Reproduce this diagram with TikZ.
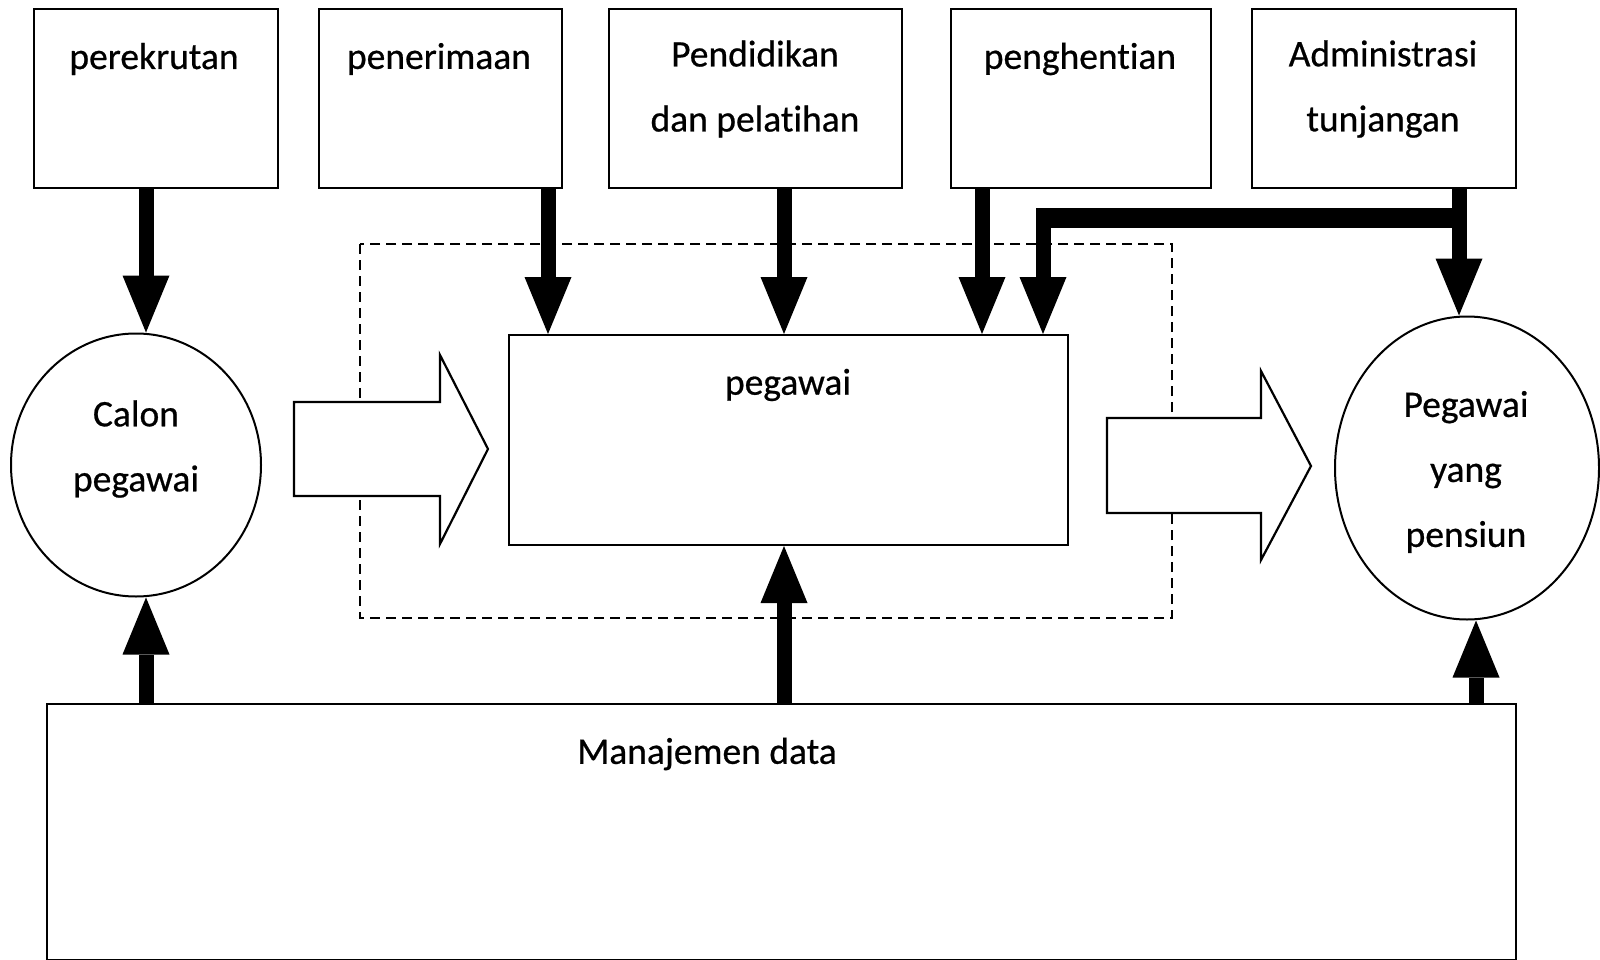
\documentclass[tikz,border=0pt]{standalone}
\usepackage{fontspec}
\setmainfont[Ligatures=NoCommon, FakeBold=0.6]{Carlito}
\usetikzlibrary{arrows.meta,shapes.geometric}
\tikzset{
  box/.style={draw, line width=2pt, rectangle, inner sep=0pt, anchor=north west, fill=white},
  lbl/.style={font=\fontsize{37.5}{65}\selectfont, align=center, inner sep=0pt},
  big/.style={line width=15pt, -{Triangle[width=47pt,length=57pt,line width=0pt]}},
  hollow/.style={draw, line width=2.2pt, fill=white, line join=miter},
  circ/.style={draw, line width=2pt, ellipse, inner sep=0pt, fill=white},
  dashbox/.style={draw, line width=2pt, dash pattern=on 10pt off 6pt},
}
\begin{document}
\begin{tikzpicture}[x=1pt, y=-1pt]
\useasboundingbox (0,0) rectangle (1600,960);

% dashed system boundary
\draw[dashbox] (360,244) rectangle (1172,618);

% top boxes
\node[box, minimum width=244pt, minimum height=179pt] (rek) at (33,8) {};
\node[box, minimum width=243pt, minimum height=179pt] (ter) at (318,8) {};
\node[box, minimum width=293pt, minimum height=179pt] (pen) at (608,8) {};
\node[box, minimum width=260pt, minimum height=179pt] (hen) at (950,8) {};
\node[box, minimum width=264pt, minimum height=179pt] (adm) at (1251,8) {};

% central box and data box
\node[box, minimum width=559pt, minimum height=210pt] (peg) at (508,334) {};
\node[box, minimum width=1469pt, minimum height=256pt] (man) at (46,703) {};

% circles
\node[circ, minimum width=250pt, minimum height=263pt] (calon) at (136,465) {};
\node[circ, minimum width=264pt, minimum height=303pt] (pens) at (1467,468) {};

% hollow flow arrows
\draw[hollow] (294,402) -- (440,402) -- (440,355) -- (488,449) -- (440,544) -- (440,496) -- (294,496) -- cycle;
\draw[hollow] (1107,418) -- (1261,418) -- (1261,371) -- (1311,466) -- (1261,560) -- (1261,513) -- (1107,513) -- cycle;

% thick downward arrows
\draw[big] (146,0 |- rek.south) -- (146,0 |- calon.north);
\draw[big] (548,0 |- ter.south) -- (548,0 |- peg.north);
\draw[big] (784,0 |- pen.south) -- (784,0 |- peg.north);
\draw[big] (982,0 |- hen.south) -- (982,0 |- peg.north);
\draw[big] (1459,0 |- adm.south) -- (1459,0 |- pens.north);
\coordinate (jr) at (1466.5,218);
\coordinate (jl) at (1035.5,218);
\draw[line width=19pt] (jr) -- (jl);
\draw[big, line join=miter] (1459,218) -- (1043,218) -- (1043,0 |- peg.north);

% thick upward arrows
\draw[big] (146,0 |- man.north) -- (146,0 |- calon.south);
\draw[big] (784,0 |- man.north) -- (784,0 |- peg.south);
\draw[big] (1476,0 |- man.north) -- (1476,0 |- pens.south);

% labels
\node[lbl] (trek) at (154,59) {perekrutan};
\node[lbl] (tter) at (439,59) {penerimaan};
\node[lbl] (tpen) at (755,89) {Pendidikan\\dan pelatihan};
\node[lbl] (then) at (1080,59) {penghentian};
\node[lbl] (tadm) at (1383,89) {Administrasi\\tunjangan};
\node[lbl] (tpeg) at (788,385) {pegawai};
\node[lbl] (tcal) at (136,449) {Calon\\pegawai};
\node[lbl] (tpns) at (1466,472) {Pegawai\\yang\\pensiun};
\node[lbl] (tman) at (707,754) {Manajemen data};
\end{tikzpicture}
\end{document}
